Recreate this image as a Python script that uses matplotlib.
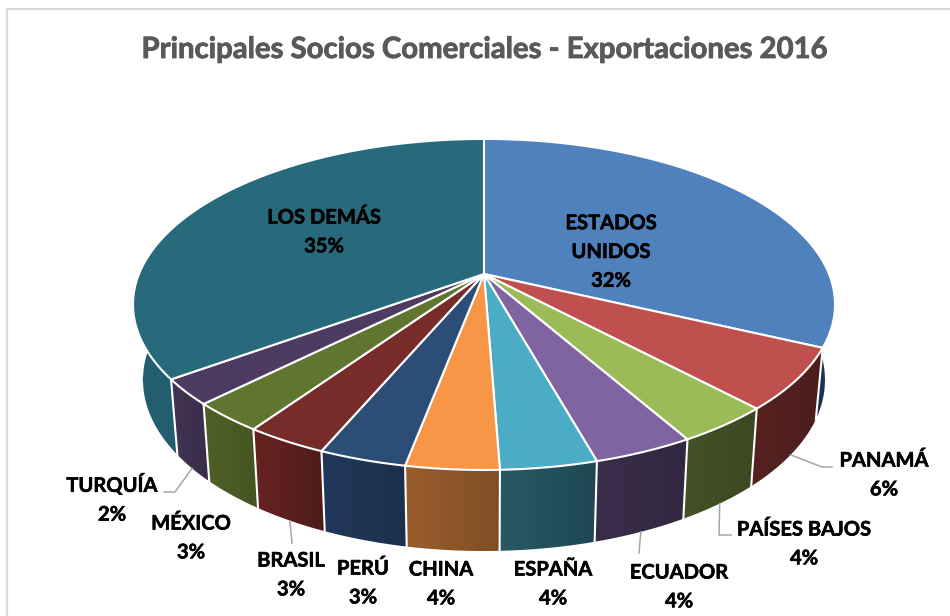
import numpy as np
import matplotlib
matplotlib.use("Agg")
import matplotlib.pyplot as plt
import matplotlib.patheffects as pe
from matplotlib.colors import to_rgb
from matplotlib.patches import Polygon

titulo = "Principales Socios Comerciales - Exportaciones 2016"
paises = ["ESTADOS\nUNIDOS", "PANAMÁ", "PAÍSES BAJOS", "ECUADOR", "ESPAÑA", "CHINA",
          "PERÚ", "BRASIL", "MÉXICO", "TURQUÍA", "LOS DEMÁS"]
valores = [32.0, 6.0, 3.75, 3.91, 3.74, 3.6, 3.4, 3.2, 2.9, 2.5, 35.0]
etiquetas = ["32%", "6%", "4%", "4%", "4%", "4%", "3%", "3%", "3%", "2%", "35%"]
col_top = ["#4F81BD", "#C0504D", "#9BBB59", "#8064A2", "#4BACC6", "#F79646",
           "#2C4D75", "#772C2A", "#5F7530", "#4D3B62", "#276A7C"]
col_izq = ["#22395A", "#562220", "#445226", "#3A2D4B", "#295966", "#9A5C2C",
           "#21385A", "#662321", "#4F6128", "#413353", "#235F70"]
col_der = ["#1E3350", "#4C1D1C", "#3C4820", "#322740", "#1F4754", "#7F4F24",
           "#1C304C", "#4F1B19", "#445522", "#3A2D4A", "#1E5766"]
pos_texto = [(611, 252), (884, 475), (804, 544), (679, 587), (553, 584), (441, 584),
             (363, 583), (291, 575), (191, 538), (112, 499), (324, 232)]
# codos de las lineas guia (pais -> puntos despues del borde)
guias = {1: [(822, 467), (832, 467)], 2: [(719, 535), (731, 535)], 3: [(639, 553)],
         7: [(292, 543)], 9: [(175, 492), (164, 492)]}
K = 0.184


def arriba(theta):
    u, v = np.sin(theta), np.cos(theta)
    w = 1 / (1 + K * v)
    return 484 + 345 * u * w, 274 - 159.9 * v * w


def abajo(theta):
    # borde inferior: x como la cara de arriba, y sobre su propia elipse
    u, v = np.sin(theta), np.cos(theta)
    x = 484 + 338 * u / (1 + K * v)
    lado = np.where(v < -K, 1, -1)
    y = 380 + lado * 171 * np.sqrt(np.clip(1 - ((x - 484) / 341) ** 2, 0, 1))
    return np.clip(x, 141, 825), y


fig = plt.figure(figsize=(9.5, 6.16), dpi=100)
ax = fig.add_axes([0, 0, 1, 1])
ax.axis("off")

ax.plot([6.5, 6.5, 950], [616, 8.5, 8.5], color="#D9D9D9", lw=1.6, zorder=1)

bordes = np.cumsum([0] + valores) / sum(valores) * 2 * np.pi

# paredes laterales con degradado
for i in range(len(valores)):
    t = np.linspace(bordes[i], bordes[i + 1], 200)
    x1, y1 = arriba(t)
    x2, y2 = abajo(t)
    xs = np.r_[x1, x2[::-1]]
    ys = np.r_[y1, y2[::-1]]
    grad = np.linspace(to_rgb(col_izq[i]), to_rgb(col_der[i]), 64)[None, :, :]
    im = ax.imshow(grad, extent=[xs.min(), xs.max(), 616, 0], aspect="auto", zorder=2)
    im.set_clip_path(Polygon(np.c_[xs, ys], transform=ax.transData))

# separadores de las paredes
for b in bordes[1:-1]:
    x1, y1 = arriba(b)
    x2, y2 = abajo(b)
    ax.plot([x1, x2], [y1, y2], color="white", lw=1.5, zorder=3)

# cara superior
for i in range(len(valores)):
    t = np.linspace(bordes[i], bordes[i + 1], 120)
    x1, y1 = arriba(t)
    ax.fill(np.r_[484, x1], np.r_[274, y1], facecolor=col_top[i], edgecolor="white",
            lw=1.5, joinstyle="round", zorder=4)

# lineas guia
for i, codo in guias.items():
    medio = (bordes[i] + bordes[i + 1]) / 2
    px, py = abajo(medio)
    ax.plot([px] + [c[0] for c in codo], [py] + [c[1] for c in codo],
            color="#A6A6A6", lw=1.1, zorder=3)

ax.text(484, 50, titulo, family="Lato", weight="bold", fontsize=21.1, color="#595959",
        ha="center", va="center",
        path_effects=[pe.withStroke(linewidth=0.6, foreground="#595959")])

for i, (x, y) in enumerate(pos_texto):
    ax.text(x, y, paises[i] + "\n" + etiquetas[i], family="Lato", weight="bold",
            fontsize=14.5, color="black", ha="center", va="center",
            linespacing=1.55, zorder=6,
            path_effects=[pe.withStroke(linewidth=0.4, foreground="black")])

ax.set_xlim(0, 950)
ax.set_ylim(616, 0)
fig.savefig("out.png", dpi=100, facecolor="white")
